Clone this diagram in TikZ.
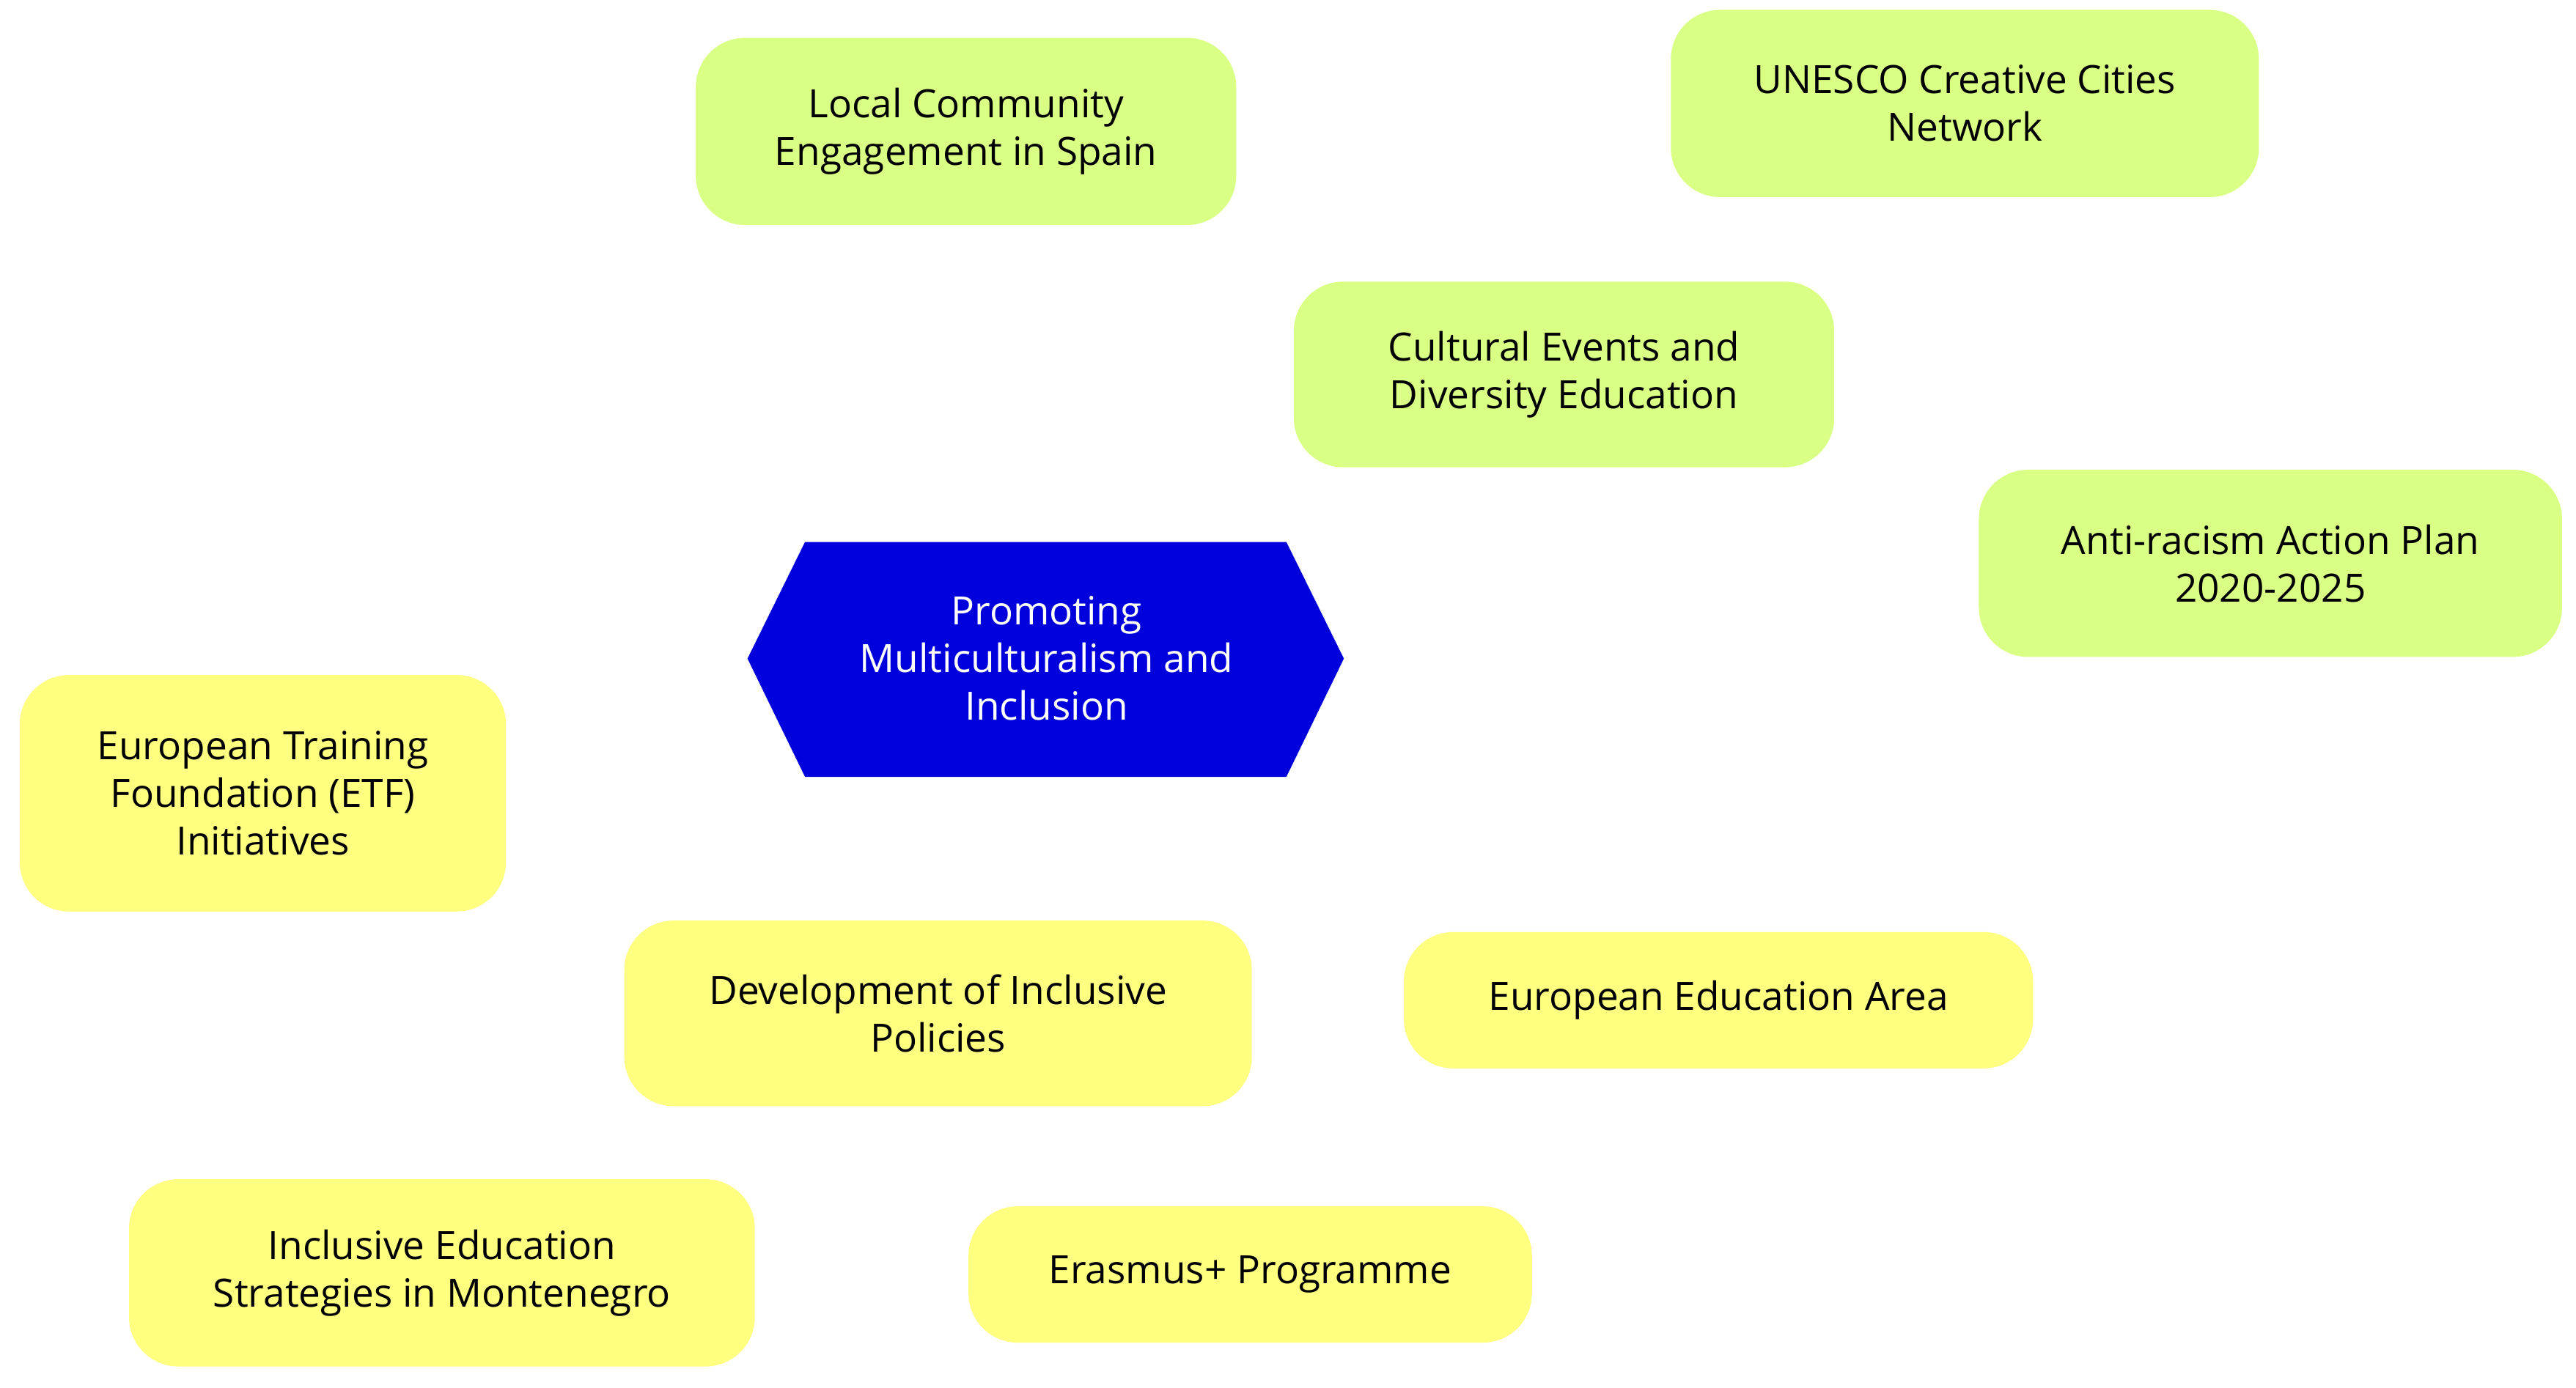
\documentclass[tikz,border=0pt]{standalone}
\usepackage{fontspec}
\setmainfont{Open Sans}
\usetikzlibrary{backgrounds}
\definecolor{gr}{HTML}{DAFF85}
\definecolor{ye}{HTML}{FFFF80}
\definecolor{bl}{HTML}{0000DD}
\begin{document}
\begin{tikzpicture}[x=0.02cm,y=-0.02cm,
  box/.style={draw=none,rounded corners=0.6cm,align=center,font=\fontsize{13.5}{16.5}\selectfont,inner sep=0pt},
  gbox/.style={box,fill=gr},
  ybox/.style={box,fill=ye},
  gedge/.style={line width=0.28cm,gr},
  yedge/.style={line width=0.28cm,ye}]
\useasboundingbox (0,0) rectangle (1568,845);
\fill[white] (0,0) rectangle (1568,845);
\node[box,minimum width=7.26cm,minimum height=2.86cm] (c) at (637,401) {};
\fill[bl] (455,401)--(490,330)--(783,330)--(818,401)--(783,473)--(490,473)--cycle;
\node[box,text=white] at (637,401) {Promoting\\Multiculturalism and\\Inclusion};
\node[gbox,minimum width=6.58cm,minimum height=2.26cm] (ce) at (952,228) {Cultural Events and\\Diversity Education};
\node[gbox,minimum width=6.58cm,minimum height=2.28cm] (lc) at (588,80) {Local Community\\Engagement in Spain};
\node[gbox,minimum width=7.16cm,minimum height=2.28cm] (un) at (1196,63) {UNESCO Creative Cities\\Network};
\node[gbox,minimum width=7.1cm,minimum height=2.28cm] (ar) at (1382,343) {Anti-racism Action Plan\\2020-2025};
\node[ybox,minimum width=7.64cm,minimum height=2.26cm] (dp) at (571,617) {Development of Inclusive\\Policies};
\node[ybox,minimum width=5.92cm,minimum height=2.88cm] (etf) at (160,483) {European Training\\Foundation (ETF)\\Initiatives};
\node[ybox,minimum width=7.66cm,minimum height=1.66cm] (eea) at (1046,609) {European Education Area};
\node[ybox,minimum width=6.86cm,minimum height=1.66cm] (er) at (761,776) {Erasmus+ Programme};
\node[ybox,minimum width=7.62cm,minimum height=2.28cm] (mo) at (269,775) {Inclusive Education\\Strategies in Montenegro};
\begin{scope}[on background layer]
\draw[gedge] (c.center) -- (ce.center);
\draw[gedge] (ce.center) -- (lc.center);
\draw[gedge] (ce.center) -- (un.center);
\draw[gedge] (ce.center) -- (ar.center);
\draw[yedge] (c.center) -- (dp.center);
\draw[yedge] (dp.center) -- (etf.center);
\draw[yedge] (dp.center) -- (eea.center);
\draw[yedge] (dp.center) -- (er.center);
\draw[yedge] (dp.center) -- (mo.center);
\end{scope}
\end{tikzpicture}
\end{document}
